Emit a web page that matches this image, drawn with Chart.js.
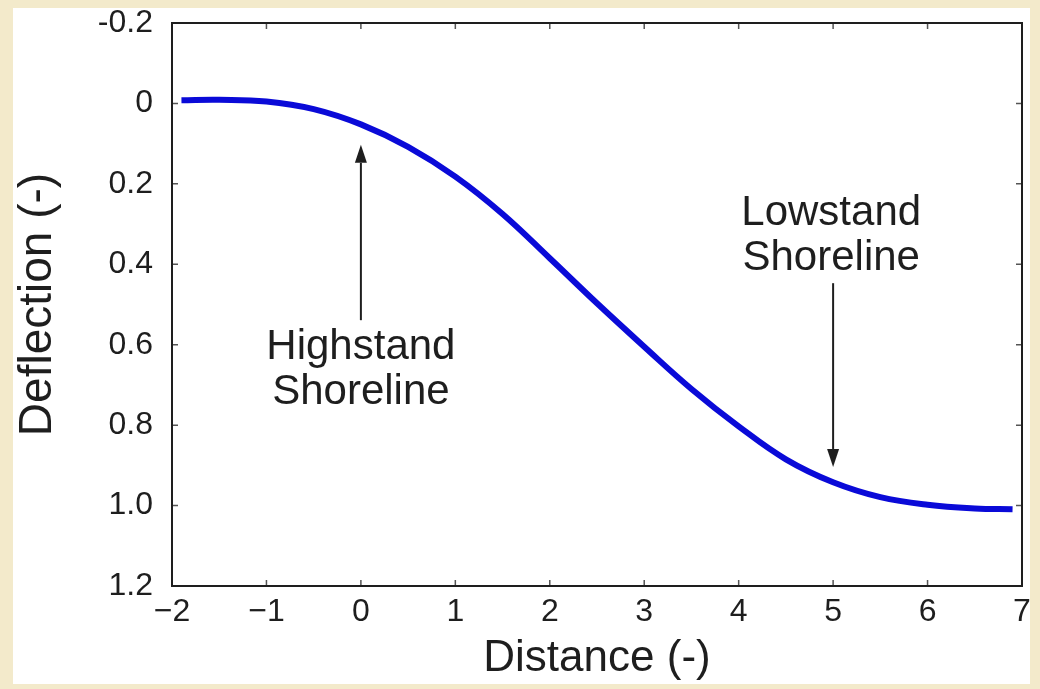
<!DOCTYPE html>
<html>
<head>
<meta charset="utf-8">
<script src="https://cdn.jsdelivr.net/npm/chart.js@4.4.1/dist/chart.umd.min.js"></script>
<style>
  html, body { margin: 0; padding: 0; background: #f3eacb; }
  canvas { display: block; }
</style>
</head>
<body>
<canvas id="deflectionChart" width="1040" height="689"></canvas>
<script>
// values
const distance = [-1.9, -1.5, -1, -0.5, 0, 0.5, 1, 1.5, 2, 2.5, 3, 3.5, 4, 4.5, 5, 5.5, 6, 6.5, 6.9];
const deflection = [-0.008, -0.009, -0.005, 0.014, 0.052, 0.108, 0.182, 0.275, 0.385, 0.497, 0.605, 0.71, 0.803, 0.885, 0.942, 0.979, 0.998, 1.007, 1.009];

const xTickLabels = ["\u22122", "\u22121", "0", "1", "2", "3", "4", "5", "6", "7"];
const yTickValues = [-0.2, 0, 0.2, 0.4, 0.6, 0.8, 1.0, 1.2];
const yTickLabels = ["-0.2", "0", "0.2", "0.4", "0.6", "0.8", "1.0", "1.2"];

// annotations, in data units
const noteText = [["Highstand", "Shoreline"], ["Lowstand", "Shoreline"]];
const noteX = [0, 4.98];
const noteY = [0.606, 0.273];
const arrowX = [0, 5];
const arrowFrom = [0.539, 0.447];
const arrowTo = [0.103, 0.904];

const fontFamily = "'Liberation Sans', Arial, Helvetica, sans-serif";
const inkColor = "#1e1e1e";

const panelPlugin = {
    id: "panel",
    beforeDraw(chart) {
        const ctx = chart.ctx;
        ctx.save();
        ctx.fillStyle = "#ffffff";
        ctx.fillRect(13, 8, 1017, 676);
        ctx.restore();
    }
};

const framePlugin = {
    id: "frame",
    afterDraw(chart) {
        const ctx = chart.ctx;
        const a = chart.chartArea;
        const xs = chart.scales.x;
        const ys = chart.scales.y;
        const tick = 6;
        ctx.save();
        // inward ticks on all four sides
        ctx.strokeStyle = "#555";
        ctx.lineWidth = 1.5;
        ctx.beginPath();
        xs.ticks.forEach(function (t) {
            const px = xs.getPixelForValue(t.value);
            ctx.moveTo(px, a.bottom); ctx.lineTo(px, a.bottom - tick);
            ctx.moveTo(px, a.top); ctx.lineTo(px, a.top + tick);
        });
        ys.ticks.forEach(function (t) {
            const py = ys.getPixelForValue(t.value);
            ctx.moveTo(a.left, py); ctx.lineTo(a.left + tick, py);
            ctx.moveTo(a.right, py); ctx.lineTo(a.right - tick, py);
        });
        ctx.stroke();
        // box
        ctx.strokeStyle = inkColor;
        ctx.lineWidth = 2;
        ctx.strokeRect(a.left, a.top, a.right - a.left, a.bottom - a.top);

        // arrows
        ctx.fillStyle = inkColor;
        ctx.lineWidth = 2;
        for (let i = 0; i < arrowX.length; i++) {
            const px = xs.getPixelForValue(arrowX[i]);
            const y0 = ys.getPixelForValue(arrowFrom[i]);
            const y1 = ys.getPixelForValue(arrowTo[i]);
            const dir = y1 < y0 ? -1 : 1;
            const headLen = 18, headHalf = 6;
            ctx.beginPath();
            ctx.moveTo(px, y0);
            ctx.lineTo(px, y1 - dir * headLen);
            ctx.stroke();
            ctx.beginPath();
            ctx.moveTo(px, y1);
            ctx.lineTo(px - headHalf, y1 - dir * headLen);
            ctx.lineTo(px + headHalf, y1 - dir * headLen);
            ctx.closePath();
            ctx.fill();
        }

        // labels
        ctx.font = "42px " + fontFamily;
        ctx.textAlign = "center";
        ctx.textBaseline = "middle";
        for (let i = 0; i < noteText.length; i++) {
            const px = xs.getPixelForValue(noteX[i]);
            const py = ys.getPixelForValue(noteY[i]);
            noteText[i].forEach(function (line, j) {
                ctx.fillText(line, px, py + j * 45);
            });
        }
        ctx.restore();
    }
};

const points = distance.map(function (d, i) { return { x: d, y: deflection[i] }; });

new Chart(document.getElementById("deflectionChart"), {
    type: "scatter",
    data: {
        datasets: [{
            data: points,
            showLine: true,
            borderColor: "#0a0ad8",
            borderWidth: 6,
            pointRadius: 0,
            tension: 0.4,
            fill: false
        }]
    },
    options: {
        responsive: false,
        animation: false,
        layout: { padding: { top: 23, right: 18, left: 0, bottom: 0 } },
        plugins: {
            legend: { display: false },
            tooltip: { enabled: false }
        },
        scales: {
            x: {
                type: "linear",
                min: -2,
                max: 7,
                afterFit(scale) {
                    scale.height = 103;
                    scale.paddingLeft = 0;
                    scale.paddingRight = 0;
                },
                grid: { display: false, drawTicks: false },
                border: { display: false },
                ticks: {
                    stepSize: 1,
                    padding: 7,
                    color: inkColor,
                    font: { family: fontFamily, size: 32 },
                    maxRotation: 0,
                    callback: function (value, index) { return xTickLabels[index]; }
                },
                title: {
                    display: true,
                    text: "Distance (-)",
                    color: inkColor,
                    font: { family: fontFamily, size: 44, lineHeight: 1.2 },
                    padding: 4
                }
            },
            y: {
                type: "linear",
                reverse: true,
                min: -0.2,
                max: 1.2,
                afterFit(scale) {
                    scale.width = 172;
                    scale.paddingTop = 0;
                    scale.paddingBottom = 0;
                },
                grid: { display: false, drawTicks: false },
                border: { display: false },
                ticks: {
                    stepSize: 0.2,
                    padding: 19,
                    color: inkColor,
                    font: { family: fontFamily, size: 32 },
                    callback: function (value) {
                        const i = yTickValues.findIndex(function (v) { return Math.abs(v - value) < 1e-6; });
                        return i < 0 ? "" : yTickLabels[i];
                    }
                },
                title: {
                    display: true,
                    text: "Deflection (-)",
                    color: inkColor,
                    font: { family: fontFamily, size: 46, lineHeight: 1 },
                    padding: 15
                }
            }
        }
    },
    plugins: [panelPlugin, framePlugin]
});
</script>
</body>
</html>
